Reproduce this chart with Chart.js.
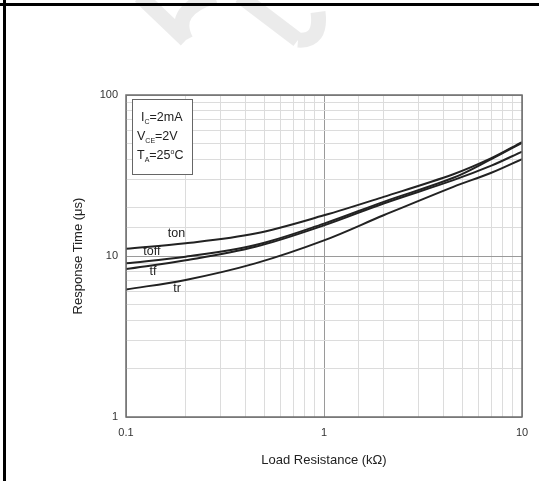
<!DOCTYPE html>
<html>
<head>
<meta charset="utf-8">
<script src="https://cdn.jsdelivr.net/npm/chart.js@4.4.0/dist/chart.umd.min.js"></script>
<style>
html, body { margin: 0; padding: 0; background: #fff; }
#wrap { width: 539px; height: 481px; }
</style>
</head>
<body>
<div id="wrap"><canvas id="chart" width="539" height="481"></canvas></div>
<script>
// load resistance (kΩ)
const resistance = [0.1, 0.2, 0.45, 1, 2, 4.5, 7, 10];
// response times (µs)
const tOn  = [11.1, 12.0, 13.8, 17.9, 23.3, 32.2, 40.5, 51];
const tOff = [9.0, 9.9, 11.7, 15.9, 21.7, 30.6, 40.0, 50.5];
const tF   = [8.3, 9.4, 11.4, 15.5, 21.2, 29.6, 36.4, 44.5];
const tR   = [6.2, 7.1, 9.0, 12.5, 17.9, 26.9, 32.9, 40];
const seriesNames = ['ton', 'toff', 'tf', 'tr'];
const xTickLabels = ['0.1', '1', '10'];
const yTickLabels = ['1', '10', '100'];
// curve names placed at [kΩ, µs]
const nameSpots = [[0.18, 13.7], [0.135, 10.6], [0.137, 7.95], [0.181, 6.3]];

const FONT = '"Liberation Sans", Arial, sans-serif';

function pts(ys) {
    return resistance.map((x, i) => ({ x: x, y: ys[i] }));
}
function isDecade(v) {
    const l = Math.log10(v);
    return Math.abs(l - Math.round(l)) < 1e-6;
}
function pick(list, v) {
    return list.find(t => Math.abs(parseFloat(t) - v) < 1e-9) || '';
}

const curveStyle = {
    borderColor: '#222',
    borderWidth: 2,
    pointRadius: 0,
    tension: 0.35,
    fill: false
};

// page frame + faint watermark
const backdrop = {
    id: 'backdrop',
    beforeDraw(chart) {
        const c = chart.ctx;
        c.save();
        c.fillStyle = '#fff';
        c.fillRect(0, 0, chart.width, chart.height);
        c.strokeStyle = 'rgba(0,0,0,0.08)';
        c.lineWidth = 15;
        c.lineCap = 'butt';
        c.beginPath();
        c.moveTo(140, -4); c.lineTo(186, 40);
        c.moveTo(186, 40); c.quadraticCurveTo(170, 10, 215, -4);
        c.moveTo(240, -4); c.lineTo(298, 40);
        c.moveTo(298, 40); c.quadraticCurveTo(322, 42, 318, 12);
        c.stroke();
        c.restore();
    },
    afterDraw(chart) {
        const c = chart.ctx;
        c.save();
        c.fillStyle = '#000';
        c.fillRect(0, 3, chart.width, 3);
        c.fillRect(3, 0, 3, chart.height);
        c.restore();
    }
};

// plot frame, curve names and test conditions
const annotate = {
    id: 'annotate',
    afterDatasetsDraw(chart) {
        const c = chart.ctx;
        const a = chart.chartArea;
        const xs = chart.scales.x, ys = chart.scales.y;
        c.save();
        c.strokeStyle = '#6e6e6e';
        c.lineWidth = 1.5;
        c.strokeRect(a.left, a.top, a.right - a.left, a.bottom - a.top);

        c.fillStyle = '#222';
        c.font = '12.5px ' + FONT;
        c.textAlign = 'center';
        c.textBaseline = 'middle';
        seriesNames.forEach((n, i) => {
            c.fillText(n, xs.getPixelForValue(nameSpots[i][0]), ys.getPixelForValue(nameSpots[i][1]));
        });

        // conditions box
        const bx = a.left + 6, by = a.top + 4;
        c.fillStyle = '#fff';
        c.fillRect(bx, by, 60, 75);
        c.strokeStyle = '#666';
        c.lineWidth = 1;
        c.strokeRect(bx + 0.5, by + 0.5, 60, 75);
        const lines = [['I', 'C', '=2mA'], ['V', 'CE', '=2V'], ['T', 'A', '=25°C']];
        c.fillStyle = '#222';
        c.textAlign = 'left';
        c.textBaseline = 'alphabetic';
        lines.forEach((ln, i) => {
            let x = bx + (i === 0 ? 9 : 5);
            const y = by + 22 + i * 19;
            c.font = '12.5px ' + FONT;
            c.fillText(ln[0], x, y);
            x += c.measureText(ln[0]).width;
            c.font = '7px ' + FONT;
            c.fillText(ln[1], x, y + 3);
            x += c.measureText(ln[1]).width;
            c.font = '12.5px ' + FONT;
            if (i === 2) {
                c.fillText('=25', x, y);
                x += c.measureText('=25').width;
                c.font = '7px ' + FONT;
                c.fillText('o', x, y - 5);
                x += c.measureText('o').width;
                c.font = '12.5px ' + FONT;
                c.fillText('C', x, y);
            } else {
                c.fillText(ln[2], x, y);
            }
        });
        c.restore();
    }
};

new Chart(document.getElementById('chart'), {
    type: 'line',
    data: {
        datasets: [
            Object.assign({ label: seriesNames[0], data: pts(tOn) }, curveStyle),
            Object.assign({ label: seriesNames[1], data: pts(tOff) }, curveStyle),
            Object.assign({ label: seriesNames[2], data: pts(tF) }, curveStyle),
            Object.assign({ label: seriesNames[3], data: pts(tR) }, curveStyle)
        ]
    },
    options: {
        responsive: false,
        animation: false,
        layout: { padding: { top: 95, right: 17, left: 0, bottom: 0 } },
        plugins: {
            legend: { display: false },
            tooltip: { enabled: false }
        },
        scales: {
            x: {
                type: 'logarithmic',
                min: 0.1,
                max: 10,
                afterFit(s) { s.height = 64; },
                grid: {
                    drawTicks: false,
                    color: ctx => isDecade(ctx.tick.value) ? '#9a9a9a' : '#dcdcdc',
                    lineWidth: 1
                },
                border: { display: false },
                ticks: {
                    autoSkip: false,
                    maxRotation: 0,
                    padding: 9,
                    color: '#333',
                    font: { family: FONT, size: 11 },
                    callback: v => pick(xTickLabels, v)
                },
                title: {
                    display: true,
                    text: 'Load Resistance (kΩ)',
                    color: '#222',
                    font: { family: FONT, size: 13 },
                    padding: { top: 0, bottom: 13 }
                }
            },
            y: {
                type: 'logarithmic',
                min: 1,
                max: 100,
                afterFit(s) { s.width = 126; },
                grid: {
                    drawTicks: false,
                    color: ctx => isDecade(ctx.tick.value) ? '#9a9a9a' : '#dcdcdc',
                    lineWidth: 1
                },
                border: { display: false },
                ticks: {
                    autoSkip: false,
                    padding: 8,
                    color: '#333',
                    font: { family: FONT, size: 11 },
                    callback: v => pick(yTickLabels, v)
                },
                title: {
                    display: true,
                    text: 'Response Time (μs)',
                    color: '#222',
                    font: { family: FONT, size: 13 },
                    padding: { top: 71, bottom: 0 }
                }
            }
        }
    },
    plugins: [backdrop, annotate]
});
</script>
</body>
</html>
